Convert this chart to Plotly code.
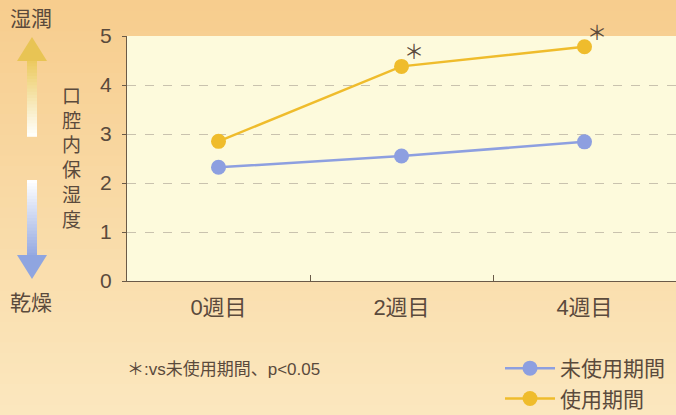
import plotly.graph_objects as go

weeks = ["0週目", "2週目", "4週目"]
unused = [2.32, 2.55, 2.84]
used = [2.85, 4.38, 4.78]
sig_marks = ["", "＊", "＊"]
series_names = ["未使用期間", "使用期間"]
y_ticks = [0, 1, 2, 3, 4, 5]

W, H = 676, 415
L, R, T, B = 127, 0, 36, 134
PW, PH = W - L - R, H - T - B

def px(x):
    return (x - L) / PW

def py(y):
    return (H - B - y) / PH

def lerp(c1, c2, t):
    return "rgb(%d,%d,%d)" % tuple(round(a + (b - a) * t) for a, b in zip(c1, c2))

FONT = "Liberation Sans, Noto Sans CJK JP, sans-serif"
TXT = "#5a4a3c"
ORANGE = "#efbc2c"
BLUE = "#8d9fe0"

fig = go.Figure()
fig.add_trace(go.Scatter(x=weeks, y=unused, name=series_names[0], mode="lines+markers",
                         line=dict(color=BLUE, width=2.5), marker=dict(size=15, color=BLUE)))
fig.add_trace(go.Scatter(x=weeks, y=used, name=series_names[1], mode="lines+markers",
                         line=dict(color=ORANGE, width=2.5), marker=dict(size=15, color=ORANGE)))

shapes = []
# background gradient
n = 40
top_c, bot_c = (247, 205, 142), (251, 231, 190)
for i in range(n):
    y0 = i * H / n
    y1 = (i + 1) * H / n + 1
    shapes.append(dict(type="rect", xref="paper", yref="paper", layer="below",
                       x0=px(-2), x1=px(W + 2), y0=py(y1), y1=py(y0),
                       fillcolor=lerp(top_c, bot_c, i / (n - 1)), line=dict(width=0)))
# plot area background
shapes.append(dict(type="rect", xref="paper", yref="paper", layer="below",
                   x0=0, x1=1.01, y0=0, y1=1, fillcolor="#fdfadc", line=dict(width=0)))
# up arrow (orange->white)
m = 24
for i in range(m):
    a = 60 + i * (136 - 60) / m
    b = 60 + (i + 1) * (136 - 60) / m + 0.8
    shapes.append(dict(type="rect", xref="paper", yref="paper", layer="below",
                       x0=px(27), x1=px(37), y0=py(b), y1=py(a),
                       fillcolor=lerp((236, 202, 96), (255, 255, 250), i / (m - 1)), line=dict(width=0)))
shapes.append(dict(type="path", xref="paper", yref="paper", layer="below",
                   path="M %f %f L %f %f L %f %f Z" % (px(17), py(61), px(47), py(61), px(32), py(37)),
                   fillcolor="rgb(232,196,84)", line=dict(width=0)))
# down arrow (white->blue)
for i in range(m):
    a = 180 + i * (256 - 180) / m
    b = 180 + (i + 1) * (256 - 180) / m + 0.8
    shapes.append(dict(type="rect", xref="paper", yref="paper", layer="below",
                       x0=px(27), x1=px(37), y0=py(b), y1=py(a),
                       fillcolor=lerp((255, 255, 255), (150, 170, 225), i / (m - 1)), line=dict(width=0)))
shapes.append(dict(type="path", xref="paper", yref="paper", layer="below",
                   path="M %f %f L %f %f L %f %f Z" % (px(17), py(255), px(47), py(255), px(32), py(279)),
                   fillcolor="rgb(143,165,224)", line=dict(width=0)))

annotations = []
for wk, v, s in zip(weeks, used, sig_marks):
    if s:
        annotations.append(dict(x=wk, y=v, text=s, showarrow=False, xshift=12, yshift=14,
                                xanchor="center", yanchor="middle",
                                font=dict(size=20, color=TXT, family=FONT)))
annotations += [
    dict(xref="paper", yref="paper", x=px(31), y=py(18), text="湿潤", showarrow=False,
         xanchor="center", yanchor="middle", font=dict(size=21, color=TXT, family=FONT)),
    dict(xref="paper", yref="paper", x=px(31), y=py(302), text="乾燥", showarrow=False,
         xanchor="center", yanchor="middle", font=dict(size=21, color=TXT, family=FONT)),
    dict(xref="paper", yref="paper", x=px(71), y=py(158), text="口<br>腔<br>内<br>保<br>湿<br>度",
         showarrow=False, xanchor="center", yanchor="middle",
         font=dict(size=19, color=TXT, family=FONT)),
    dict(xref="paper", yref="paper", x=px(125), y=py(369), xanchor="left", yanchor="middle",
         text="＊:vs未使用期間、p<0.05", showarrow=False,
         font=dict(size=17, color=TXT, family=FONT)),
]

fig.update_layout(
    width=W, height=H,
    margin=dict(l=L, r=R, t=T, b=B, pad=0, autoexpand=False),
    paper_bgcolor="rgb(249,218,165)",
    plot_bgcolor="#fdfadc",
    font=dict(family=FONT, color=TXT),
    shapes=shapes,
    annotations=annotations,
    showlegend=True,
    legend=dict(xref="container", yref="container", x=500 / W, y=1 - 348 / H,
                xanchor="left", yanchor="top",
                bgcolor="rgba(0,0,0,0)", font=dict(size=21, color=TXT, family=FONT),
                tracegroupgap=0, itemwidth=50),
    xaxis=dict(type="category", range=[-0.5, 2.5], showline=True, linecolor="#6a5a48", linewidth=1.2,
               ticks="inside", tickson="boundaries", ticklen=6, tickcolor="#6a5a48",
               showgrid=False, tickfont=dict(size=22, color=TXT), ticklabelstandoff=6),
    yaxis=dict(range=[0, 5], tickvals=y_ticks, showline=True, linecolor="#6a5a48", linewidth=1.2,
               ticks="outside", ticklen=4, tickcolor="#6a5a48",
               showgrid=True, gridcolor="#c9c2ae", griddash="dash", gridwidth=1,
               zeroline=False, tickfont=dict(size=21, color=TXT), ticklabelstandoff=6),
)

fig.write_html("out.html", config={"displayModeBar": False},
               post_script="document.body.style.margin='0';")
